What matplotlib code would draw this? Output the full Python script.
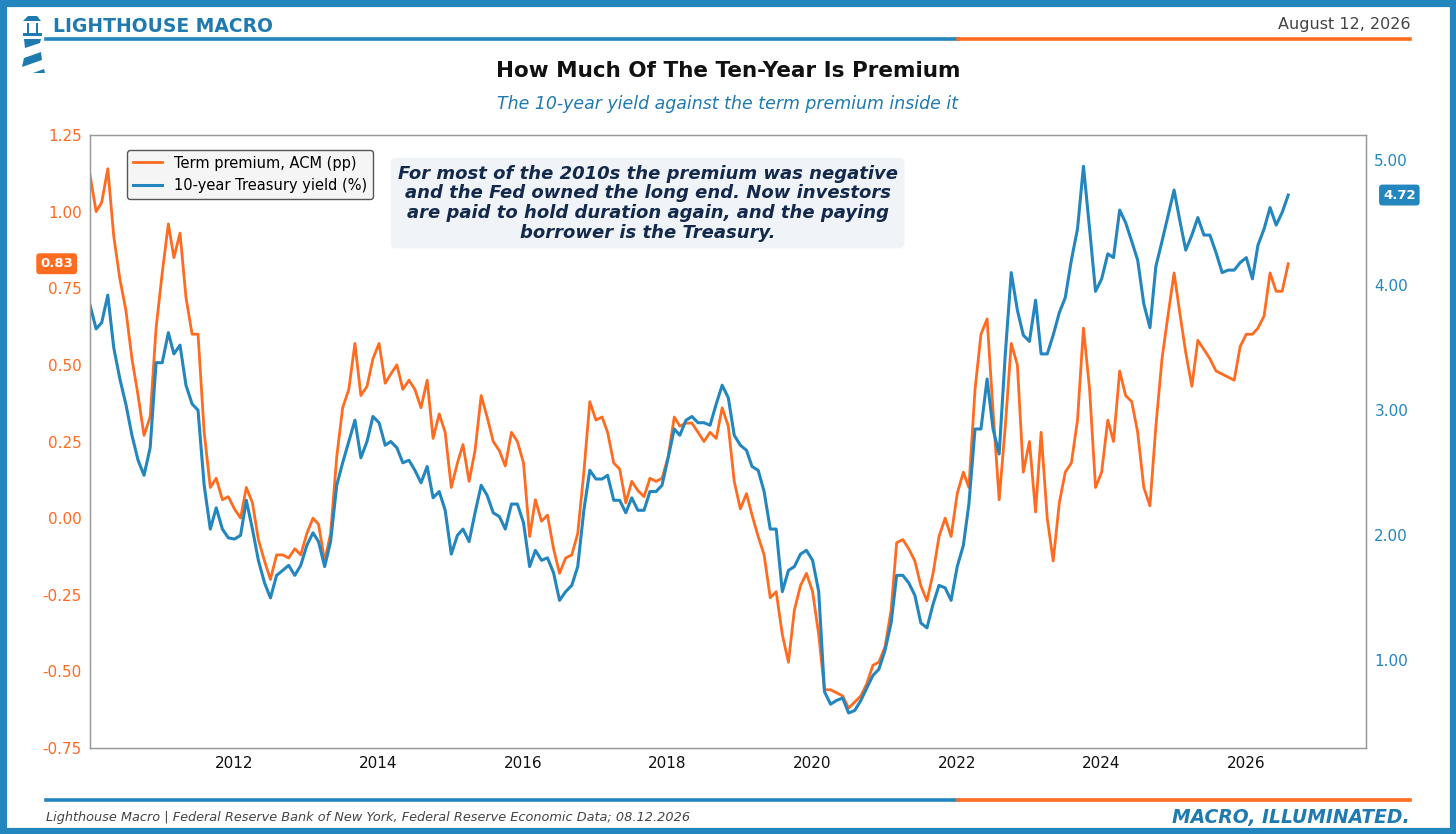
import matplotlib
matplotlib.use("Agg")
import matplotlib.pyplot as plt
import matplotlib.dates as mdates
from matplotlib.patches import Rectangle, Polygon
from matplotlib.lines import Line2D
import pandas as pd

# ---------------- data (monthly, Jan 2010 .. Aug 2026) ----------------
start_month = "2010-01-01"
term_premium = [
    # 2010
    1.12, 1.00, 1.03, 1.14, 0.92, 0.78, 0.68, 0.52, 0.40, 0.27, 0.33, 0.62,
    # 2011
    0.80, 0.96, 0.85, 0.93, 0.72, 0.60, 0.60, 0.28, 0.10, 0.13, 0.06, 0.07,
    # 2012
    0.03, 0.00, 0.10, 0.05, -0.07, -0.14, -0.20, -0.12, -0.12, -0.13, -0.10, -0.12,
    # 2013
    -0.05, 0.00, -0.02, -0.14, -0.05, 0.20, 0.36, 0.42, 0.57, 0.40, 0.43, 0.52,
    # 2014
    0.57, 0.44, 0.47, 0.50, 0.42, 0.45, 0.42, 0.36, 0.45, 0.26, 0.34, 0.28,
    # 2015
    0.10, 0.18, 0.24, 0.12, 0.22, 0.40, 0.33, 0.25, 0.22, 0.17, 0.28, 0.25,
    # 2016
    0.18, -0.06, 0.06, -0.01, 0.01, -0.10, -0.18, -0.13, -0.12, -0.05, 0.15, 0.38,
    # 2017
    0.32, 0.33, 0.28, 0.18, 0.16, 0.05, 0.12, 0.09, 0.07, 0.13, 0.12, 0.13,
    # 2018
    0.20, 0.33, 0.30, 0.31, 0.31, 0.28, 0.25, 0.28, 0.26, 0.36, 0.30, 0.12,
    # 2019
    0.03, 0.08, 0.01, -0.06, -0.12, -0.26, -0.24, -0.38, -0.47, -0.30, -0.22, -0.18,
    # 2020
    -0.24, -0.38, -0.56, -0.56, -0.57, -0.58, -0.62, -0.60, -0.58, -0.54, -0.48, -0.47,
    # 2021
    -0.42, -0.30, -0.08, -0.07, -0.10, -0.14, -0.22, -0.27, -0.18, -0.06, 0.00, -0.06,
    # 2022
    0.08, 0.15, 0.10, 0.42, 0.60, 0.65, 0.35, 0.06, 0.30, 0.57, 0.50, 0.15,
    # 2023
    0.25, 0.02, 0.28, 0.00, -0.14, 0.05, 0.15, 0.18, 0.32, 0.62, 0.42, 0.10,
    # 2024
    0.15, 0.32, 0.25, 0.48, 0.40, 0.38, 0.28, 0.10, 0.04, 0.30, 0.52, 0.66,
    # 2025
    0.80, 0.66, 0.54, 0.43, 0.58, 0.55, 0.52, 0.48, 0.47, 0.46, 0.45, 0.56,
    # 2026
    0.60, 0.60, 0.62, 0.66, 0.80, 0.74, 0.74, 0.83,
]
ten_year = [
    # 2010
    3.84, 3.65, 3.70, 3.92, 3.50, 3.25, 3.05, 2.80, 2.60, 2.48, 2.70, 3.38,
    # 2011
    3.38, 3.62, 3.45, 3.52, 3.20, 3.05, 3.00, 2.40, 2.05, 2.22, 2.05, 1.98,
    # 2012
    1.97, 2.00, 2.28, 2.05, 1.80, 1.62, 1.50, 1.68, 1.72, 1.76, 1.68, 1.76,
    # 2013
    1.92, 2.02, 1.95, 1.75, 1.95, 2.40, 2.58, 2.75, 2.92, 2.62, 2.75, 2.95,
    # 2014
    2.90, 2.72, 2.75, 2.70, 2.58, 2.60, 2.52, 2.42, 2.55, 2.30, 2.35, 2.20,
    # 2015
    1.85, 2.00, 2.05, 1.95, 2.18, 2.40, 2.32, 2.18, 2.15, 2.05, 2.25, 2.25,
    # 2016
    2.10, 1.75, 1.88, 1.80, 1.82, 1.70, 1.48, 1.55, 1.60, 1.75, 2.20, 2.52,
    # 2017
    2.45, 2.45, 2.48, 2.28, 2.28, 2.18, 2.30, 2.20, 2.20, 2.35, 2.35, 2.40,
    # 2018
    2.62, 2.85, 2.80, 2.92, 2.95, 2.90, 2.90, 2.88, 3.05, 3.20, 3.10, 2.80,
    # 2019
    2.72, 2.68, 2.55, 2.52, 2.35, 2.05, 2.05, 1.55, 1.72, 1.75, 1.85, 1.88,
    # 2020
    1.80, 1.55, 0.75, 0.65, 0.68, 0.70, 0.58, 0.60, 0.68, 0.78, 0.88, 0.93,
    # 2021
    1.08, 1.30, 1.68, 1.68, 1.62, 1.52, 1.30, 1.26, 1.45, 1.60, 1.58, 1.48,
    # 2022
    1.75, 1.92, 2.25, 2.85, 2.85, 3.25, 2.85, 2.65, 3.45, 4.10, 3.80, 3.60,
    # 2023
    3.55, 3.88, 3.45, 3.45, 3.60, 3.78, 3.90, 4.20, 4.45, 4.95, 4.45, 3.95,
    # 2024
    4.05, 4.25, 4.22, 4.60, 4.50, 4.35, 4.20, 3.85, 3.66, 4.15, 4.35, 4.55,
    # 2025
    4.76, 4.50, 4.28, 4.40, 4.54, 4.40, 4.40, 4.26, 4.10, 4.12, 4.12, 4.18,
    # 2026
    4.22, 4.05, 4.32, 4.45, 4.62, 4.48, 4.58, 4.72,
]
left_ticks = [-0.75, -0.50, -0.25, 0.00, 0.25, 0.50, 0.75, 1.00, 1.25]
right_ticks = [1.00, 2.00, 3.00, 4.00, 5.00]

dates = pd.date_range(start_month, periods=len(term_premium), freq="MS") + pd.Timedelta(days=3)

# ---------------- style ----------------
ORANGE = "#FF6B1F"
BLUE = "#2386BE"
TITLE_BLUE = "#1F7AB0"
NAVY = "#13294B"

W, H = 1456, 834
fig = plt.figure(figsize=(W / 100, H / 100), dpi=100)
fig.patch.set_facecolor("white")

def fx(x):
    return x / W

def fy(y):
    return 1 - y / H

# border
fig.patches.append(Rectangle((0, 0), 1, 1, transform=fig.transFigure,
                             fill=False, edgecolor=BLUE, linewidth=9.5, zorder=10))

# lighthouse icon (pixel coordinates)
def poly(pts, color=TITLE_BLUE):
    fig.patches.append(Polygon([(fx(x), fy(y)) for x, y in pts], closed=True,
                               transform=fig.transFigure, facecolor=color,
                               edgecolor="none", zorder=5))

poly([(23, 21), (28, 16), (37, 16), (41, 21)])     # roof
poly([(27, 23), (29, 23), (29, 33), (27, 33)])     # lantern left
poly([(36, 23), (38, 23), (38, 33), (36, 33)])     # lantern right
poly([(23, 33), (42, 33), (42, 36), (23, 36)])     # gallery
poly([(24, 39), (41, 39), (40, 43), (25, 48)])     # stripe 1
poly([(24, 58), (41, 52), (42, 60), (22, 67)])     # stripe 2
poly([(33, 73), (44, 69), (45, 73)])               # base

# header
fig.text(fx(53), fy(27), "LIGHTHOUSE MACRO", color=TITLE_BLUE, fontsize=13.5,
         fontweight="bold", ha="left", va="center")
fig.text(fx(1410), fy(25), "August 12, 2026", color="#444444", fontsize=11.5,
         ha="right", va="center")
fig.add_artist(Line2D([fx(46), fx(958)], [fy(38.5), fy(38.5)], color=BLUE, lw=2.6,
                      transform=fig.transFigure))
fig.add_artist(Line2D([fx(958), fx(1410)], [fy(38.5), fy(38.5)], color=ORANGE, lw=2.6,
                      transform=fig.transFigure))

fig.text(0.5, fy(71), "How Much Of The Ten-Year Is Premium", color="#111111",
         fontsize=15.5, fontweight="bold", ha="center", va="center")
fig.text(0.5, fy(104), "The 10-year yield against the term premium inside it",
         color=TITLE_BLUE, fontsize=12.5, style="italic", ha="center", va="center")

# footer
fig.add_artist(Line2D([fx(46), fx(958)], [fy(800), fy(800)], color=BLUE, lw=2.6,
                      transform=fig.transFigure))
fig.add_artist(Line2D([fx(958), fx(1410)], [fy(800), fy(800)], color=ORANGE, lw=2.6,
                      transform=fig.transFigure))
fig.text(fx(46), fy(818),
         "Lighthouse Macro | Federal Reserve Bank of New York, Federal Reserve Economic Data; 08.12.2026",
         color="#444444", fontsize=9.3, style="italic", ha="left", va="center")
fig.text(fx(1410), fy(818), "MACRO, ILLUMINATED.", color=TITLE_BLUE, fontsize=13.5,
         fontweight="bold", style="italic", ha="right", va="center")

# ---------------- axes ----------------
ax = fig.add_axes([fx(90), 1 - 748 / H, (1366 - 90) / W, (748 - 135) / H])
ax2 = ax.twinx()

ax.plot(dates, term_premium, color=ORANGE, lw=2.0, label="Term premium, ACM (pp)")
ax2.plot(dates, ten_year, color=BLUE, lw=2.2, label="10-year Treasury yield (%)")

ax.set_ylim(-0.75, 1.25)
ax2.set_ylim(0.30, 5.20)
ax.set_xlim(dates[0], pd.Timestamp("2027-09-01"))

ax.set_yticks(left_ticks)
ax.set_yticklabels([f"{v:.2f}" for v in left_ticks])
ax2.set_yticks(right_ticks)
ax2.set_yticklabels([f"{v:.2f}" for v in right_ticks])

ax.xaxis.set_major_locator(mdates.YearLocator(2))
ax.xaxis.set_major_formatter(mdates.DateFormatter("%Y"))

ax.tick_params(axis="y", colors=ORANGE, labelsize=11, length=0, pad=6)
ax2.tick_params(axis="y", colors=BLUE, labelsize=11, length=0, pad=6)
ax.tick_params(axis="x", colors="#111111", labelsize=11, length=0, pad=6)
for a in (ax, ax2):
    for s in a.spines.values():
        s.set_color("#999999")
        s.set_linewidth(0.9)

# legend
h1, l1 = ax.get_legend_handles_labels()
h2, l2 = ax2.get_legend_handles_labels()
leg = ax2.legend(h1 + h2, l1 + l2, loc="upper left", bbox_to_anchor=(0.029, 0.976),
                 fontsize=10.5, frameon=True, fancybox=True, borderaxespad=0,
                 handlelength=2.0)
leg.get_frame().set_edgecolor("#555555")
leg.get_frame().set_facecolor("#F5F5F5")
leg.get_frame().set_alpha(1.0)

# annotation box
ax2.text(0.437, 0.889,
         "For most of the 2010s the premium was negative\nand the Fed owned the long end. Now investors\n"
         "are paid to hold duration again, and the paying\nborrower is the Treasury.",
         transform=ax2.transAxes, ha="center", va="center", fontsize=13,
         fontweight="bold", style="italic", color=NAVY, linespacing=1.12,
         bbox=dict(boxstyle="round,pad=0.38,rounding_size=0.3", facecolor="#F0F4F8",
                   edgecolor="none"), zorder=6)

# value badges
last_tp = term_premium[-1]
last_ty = ten_year[-1]
ax.annotate(f"{last_tp:.2f}", xy=(0, last_tp), xycoords=("axes fraction", "data"),
            xytext=(-24, 0), textcoords="offset points", ha="center", va="center",
            fontsize=9.5, fontweight="bold", color="white", annotation_clip=False,
            bbox=dict(boxstyle="round,pad=0.3,rounding_size=0.25", facecolor=ORANGE,
                      edgecolor="none"))
ax2.annotate(f"{last_ty:.2f}", xy=(1, last_ty), xycoords=("axes fraction", "data"),
             xytext=(24, 0), textcoords="offset points", ha="center", va="center",
             fontsize=9.5, fontweight="bold", color="white", annotation_clip=False,
             bbox=dict(boxstyle="round,pad=0.3,rounding_size=0.25", facecolor=BLUE,
                       edgecolor="none"))

fig.savefig("out.png", dpi=100)
